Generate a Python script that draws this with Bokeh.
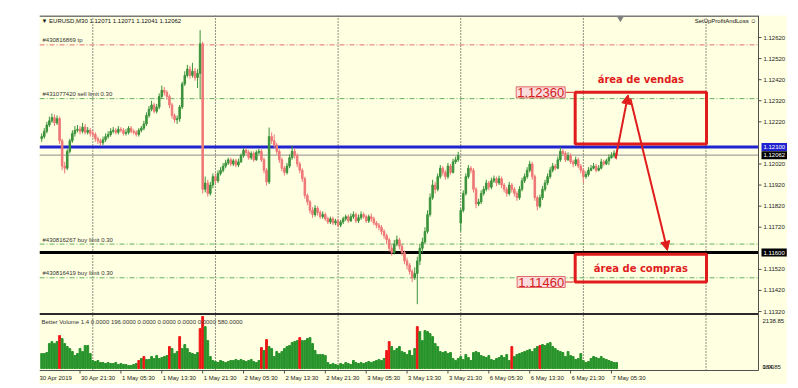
from bokeh.plotting import figure
from bokeh.models import (Range1d, Label, Arrow, NormalHead, BoxAnnotation,
                          ColumnDataSource, Spacer)
from bokeh.core.properties import value
from bokeh.layouts import column, row
from bokeh.embed import file_html
from bokeh.resources import INLINE

# ---------------- data (prices in points above PRICE_BASE) ----------------
PRICE_BASE = 1.10000
PT = 0.00001

OPEN_PTS = [
    2140, 2150, 2175, 2205, 2225, 2240, 2215, 2235, 2130, 2010,
    2000, 2080, 2130, 2165, 2180, 2185, 2175, 2195, 2170, 2180,
    2165, 2160, 2140, 2130, 2120, 2135, 2150, 2160, 2175, 2180,
    2170, 2185, 2180, 2165, 2170, 2190, 2175, 2170, 2160, 2180,
    2190, 2210, 2250, 2280, 2300, 2270, 2290, 2340, 2370, 2360,
    2340, 2300, 2250, 2230, 2235, 2290, 2400, 2440, 2470, 2440,
    2460, 2430, 2450, 2590, 1900, 1930, 1880, 1920, 1960, 1940,
    1975, 1990, 2010, 2025, 2040, 2020, 2035, 2015, 2030, 2060,
    2085, 2075, 2050, 2070, 2040, 2075, 2080, 2040, 1990, 1935,
    2150, 2130, 2110, 2080, 2040, 2000, 1980, 2010, 2050, 2080,
    2060, 2020, 1990, 1950, 1870, 1840, 1800, 1780, 1810, 1790,
    1770, 1780, 1760, 1745, 1760, 1740, 1750, 1730, 1745, 1760,
    1770, 1750, 1770, 1780, 1750, 1765, 1780, 1770, 1750, 1770,
    1760, 1740, 1730, 1720, 1700, 1680, 1660, 1620, 1600, 1640,
    1660, 1630, 1600, 1560, 1540, 1510, 1480, 1500, 1560, 1620,
    1650, 1700, 1780, 1860, 1920, 1900, 1960, 2000, 1980, 1960,
    2010, 1980, 2030, 2040, 1740, 1800, 1880, 1960, 2000, 1990,
    1900, 1830, 1840, 1880, 1900, 1930, 1910, 1940, 1950, 1930,
    1950, 1920, 1900, 1880, 1920, 1900, 1880, 1860, 1900, 1940,
    1960, 1990, 2020, 1960, 1860, 1820, 1860, 1900, 1930, 1960,
    1990, 2010, 2000, 2040, 2080, 2070, 2040, 2060, 2030, 2020,
    2040, 2010, 1990, 1960, 1970, 1990, 2000, 2010, 1990, 2000,
    2030, 2020, 2035, 2050, 2060, 2071,
]
HIGH_PTS = [
    2165, 2190, 2220, 2245, 2259, 2255, 2250, 2245, 2140, 2030,
    2090, 2140, 2180, 2200, 2205, 2200, 2215, 2210, 2195, 2190,
    2180, 2170, 2150, 2140, 2150, 2165, 2175, 2190, 2195, 2190,
    2200, 2195, 2190, 2185, 2200, 2200, 2185, 2180, 2190, 2200,
    2225, 2265, 2295, 2320, 2310, 2305, 2355, 2392, 2385, 2370,
    2350, 2310, 2260, 2250, 2300, 2410, 2460, 2490, 2485, 2500,
    2475, 2470, 2655, 2600, 1960, 1945, 1935, 1975, 1975, 1990,
    2005, 2025, 2040, 2050, 2050, 2045, 2045, 2045, 2070, 2095,
    2095, 2085, 2080, 2080, 2085, 2092, 2090, 2050, 2000, 2193,
    2170, 2160, 2120, 2090, 2050, 2010, 2025, 2065, 2105, 2095,
    2070, 2030, 2000, 1960, 1880, 1850, 1815, 1825, 1820, 1800,
    1795, 1790, 1770, 1770, 1770, 1760, 1760, 1755, 1770, 1780,
    1780, 1785, 1795, 1790, 1780, 1795, 1790, 1780, 1780, 1785,
    1770, 1750, 1740, 1730, 1710, 1690, 1670, 1635, 1660, 1680,
    1670, 1640, 1610, 1575, 1550, 1520, 1530, 1580, 1640, 1670,
    1720, 1800, 1880, 1945, 1935, 1975, 2015, 2010, 1990, 2025,
    2020, 2045, 2055, 2078, 1810, 1895, 1975, 2015, 2010, 2000,
    1910, 1855, 1895, 1915, 1945, 1940, 1955, 1965, 1960, 1965,
    1960, 1930, 1910, 1935, 1930, 1910, 1890, 1915, 1955, 1975,
    2005, 2035, 2030, 1970, 1870, 1875, 1915, 1945, 1975, 2005,
    2025, 2020, 2055, 2100, 2090, 2080, 2075, 2070, 2040, 2055,
    2050, 2020, 2000, 1985, 2005, 2015, 2025, 2020, 2015, 2045,
    2040, 2045, 2065, 2075, 2085, 2071,
]
LOW_PTS = [
    2125, 2140, 2165, 2195, 2215, 2200, 2205, 2115, 1990, 1975,
    1990, 2070, 2120, 2150, 2170, 2160, 2165, 2160, 2160, 2150,
    2145, 2125, 2115, 2105, 2110, 2125, 2140, 2150, 2165, 2160,
    2160, 2170, 2155, 2155, 2160, 2165, 2160, 2150, 2150, 2170,
    2180, 2200, 2240, 2270, 2260, 2260, 2280, 2330, 2345, 2325,
    2285, 2235, 2215, 2210, 2220, 2280, 2390, 2430, 2425, 2430,
    2415, 2380, 2330, 1880, 1885, 1865, 1870, 1905, 1925, 1930,
    1965, 1980, 2000, 2015, 2010, 2010, 2005, 2005, 2025, 2050,
    2065, 2040, 2040, 2030, 2035, 2065, 2030, 1975, 1918, 1925,
    2115, 2095, 2065, 2025, 1985, 1965, 1970, 2000, 2040, 2045,
    2005, 1975, 1935, 1855, 1825, 1785, 1765, 1770, 1775, 1760,
    1760, 1750, 1735, 1735, 1730, 1730, 1720, 1720, 1735, 1750,
    1740, 1745, 1760, 1740, 1740, 1755, 1760, 1740, 1740, 1745,
    1730, 1715, 1705, 1685, 1665, 1640, 1605, 1585, 1590, 1630,
    1615, 1585, 1545, 1520, 1495, 1460, 1470, 1355, 1540, 1600,
    1640, 1690, 1770, 1850, 1880, 1890, 1950, 1965, 1945, 1950,
    1970, 1975, 2020, 2030, 1700, 1790, 1870, 1950, 1975, 1885,
    1810, 1820, 1830, 1870, 1890, 1895, 1900, 1930, 1915, 1920,
    1905, 1885, 1865, 1870, 1885, 1865, 1845, 1850, 1890, 1930,
    1950, 1980, 1945, 1845, 1800, 1810, 1850, 1890, 1920, 1950,
    1980, 1990, 1995, 2030, 2060, 2030, 2035, 2020, 2005, 2010,
    2000, 1975, 1930, 1950, 1960, 1985, 1995, 1980, 1985, 1995,
    2010, 2015, 2015, 2045, 2050, 2041,
]
CLOSE_PTS = [
    2150, 2175, 2205, 2225, 2240, 2215, 2235, 2130, 2010, 2000,
    2080, 2130, 2165, 2180, 2185, 2175, 2195, 2170, 2180, 2165,
    2160, 2140, 2130, 2120, 2135, 2150, 2160, 2175, 2180, 2170,
    2185, 2180, 2165, 2170, 2190, 2175, 2170, 2160, 2180, 2190,
    2210, 2250, 2280, 2300, 2270, 2290, 2340, 2370, 2360, 2340,
    2300, 2250, 2230, 2235, 2290, 2400, 2440, 2470, 2440, 2460,
    2430, 2450, 2590, 1900, 1930, 1880, 1920, 1960, 1940, 1975,
    1990, 2010, 2025, 2040, 2020, 2035, 2015, 2030, 2060, 2085,
    2075, 2050, 2070, 2040, 2075, 2080, 2040, 1990, 1935, 2150,
    2130, 2110, 2080, 2040, 2000, 1980, 2010, 2050, 2080, 2060,
    2020, 1990, 1950, 1870, 1840, 1800, 1780, 1810, 1790, 1770,
    1780, 1760, 1745, 1760, 1740, 1750, 1730, 1745, 1760, 1770,
    1750, 1770, 1780, 1750, 1765, 1780, 1770, 1750, 1770, 1760,
    1740, 1730, 1720, 1700, 1680, 1660, 1620, 1600, 1640, 1660,
    1630, 1600, 1560, 1540, 1510, 1480, 1500, 1560, 1620, 1650,
    1700, 1780, 1860, 1920, 1900, 1960, 2000, 1980, 1960, 2010,
    1980, 2030, 2040, 2060, 1800, 1880, 1960, 2000, 1990, 1900,
    1830, 1840, 1880, 1900, 1930, 1910, 1940, 1950, 1930, 1950,
    1920, 1900, 1880, 1920, 1900, 1880, 1860, 1900, 1940, 1960,
    1990, 2020, 1960, 1860, 1820, 1860, 1900, 1930, 1960, 1990,
    2010, 2000, 2040, 2080, 2070, 2040, 2060, 2030, 2020, 2040,
    2010, 1990, 1960, 1970, 1990, 2000, 2010, 1990, 2000, 2030,
    2020, 2035, 2050, 2060, 2071, 2062,
]
VOLUME = [
    615, 615, 656, 1025, 1107, 1025, 1107, 1353, 1230, 1025,
    902, 820, 697, 533, 615, 820, 697, 943, 943, 615,
    328, 287, 328, 246, 246, 205, 246, 205, 205, 246,
    164, 205, 164, 164, 123, 123, 164, 205, 328, 410,
    492, 369, 369, 492, 410, 533, 410, 451, 492, 533,
    902, 820, 615, 697, 1312, 820, 984, 820, 656, 615,
    574, 656, 1640, 2138, 1722, 1148, 492, 328, 287, 246,
    328, 287, 246, 287, 328, 328, 369, 328, 369, 328,
    287, 328, 369, 287, 246, 328, 861, 738, 1189, 902,
    820, 492, 697, 615, 697, 820, 902, 943, 1066, 1107,
    1148, 1271, 1148, 1148, 1230, 1271, 1025, 738, 574, 574,
    574, 533, 246, 164, 205, 164, 123, 205, 164, 246,
    205, 164, 328, 246, 205, 246, 205, 246, 287, 246,
    287, 328, 369, 328, 410, 738, 1107, 902, 738, 820,
    902, 697, 656, 574, 738, 533, 820, 1722, 1517, 1148,
    1558, 1517, 1435, 1312, 1025, 902, 697, 656, 697, 615,
    656, 410, 328, 410, 492, 369, 574, 451, 328, 656,
    697, 656, 533, 492, 451, 533, 369, 328, 410, 451,
    533, 451, 574, 328, 902, 492, 574, 615, 656, 697,
    738, 779, 697, 820, 902, 943, 984, 943, 1025, 1066,
    902, 820, 738, 697, 656, 492, 697, 533, 492, 369,
    410, 615, 328, 246, 287, 410, 492, 451, 410, 492,
    410, 369, 328, 287, 246, 246,
]
VOL_CLIMAX = [7, 38, 40, 50, 54, 62, 63, 86, 88, 101, 135, 136, 147, 184, 195]
VOL_MAX_LABEL = "2138.85"
VOL_MIN_LABELS = ["0.00", "184.85"]

FIRST_LABEL = "30 Apr 2019"
TIME_TICKS = [15, 31, 47, 63, 79, 95, 111, 127, 143, 159, 175, 191, 207, 223]
TIME_LABELS = ["30 Apr 21:30", "1 May 05:30", "1 May 13:30", "1 May 21:30",
               "2 May 05:30", "2 May 13:30", "2 May 21:30", "3 May 05:30",
               "3 May 13:30", "3 May 21:30", "6 May 05:30", "6 May 13:30",
               "6 May 21:30", "7 May 05:30"]
DAY_STARTS = [20, 68, 116, 164, 212, 260]
PRICE_TICKS = [1.11320, 1.11420, 1.11520, 1.11720, 1.11820, 1.11920,
               1.12020, 1.12220, 1.12320, 1.12420, 1.12520, 1.12620]

TITLE = "\u25bc EURUSD,M30  1.12071 1.12071 1.12041 1.12062"
EXPERT = "SetUpProfitAndLoss \u263a"
VOL_TITLE = "Better Volume 1.4 0.0000 196.0000 0.0000 0.0000 0.0000 0.0000 580.0000"

ORDER_NAMES = ["#430816869 tp", "#431077420 sell limit 0.30",
               "#430816267 buy limit 0.30", "#430816419 buy limit 0.30"]
ORDER_PRICES = [1.12585, 1.12330, 1.11640, 1.11480]
ORDER_KIND = ["tp", "limit", "limit", "limit"]

LEVEL_BLUE = 1.12100
LEVEL_BLACK = 1.11600
BID = 1.12062
SELL_ZONE = (1.12115, 1.12360)
BUY_ZONE = (1.11460, 1.11592)
ZONE_X = (208.8, 260.2)
SELL_TEXT = "área de vendas"
BUY_TEXT = "área de compras"
ARROW_UP = (224.6, 1.12046, 229.5, 1.12348)
ARROW_DOWN = (230.4, 1.12331, 244.9, 1.11610)

# ---------------- layout constants (frame = whole figure) ----------------
FIG_W, FIG_H = 748, 369          # placed at page (39, 15)
PLOT_W, PLOT_H = 719, 355        # chart area inside, axes drawn by hand
BAR_PX = 2.555
X_LEFT = -0.861
X_RIGHT = X_LEFT + FIG_W / BAR_PX
PRICE_PER_PX = 0.00004744
PRICE_TOP = 1.127244
PRICE_BOTTOM = PRICE_TOP - FIG_H * PRICE_PER_PX
VOL_PER_PX = 41.13
VOL_BASE_PX = 353
VOL_TOP = VOL_BASE_PX * VOL_PER_PX
VOL_BOTTOM = -(FIG_H - VOL_BASE_PX) * VOL_PER_PX


def fx(px):
    return X_LEFT + px / BAR_PX


def fy(py):
    return PRICE_TOP - py * PRICE_PER_PX


def fv(py):
    return (VOL_BASE_PX - py) * VOL_PER_PX


def to_price(pts):
    return [round(PRICE_BASE + v * PT, 5) for v in pts]


N = len(CLOSE_PTS)
IDX = list(range(N))
O, H, L, C = (to_price(a) for a in (OPEN_PTS, HIGH_PTS, LOW_PTS, CLOSE_PTS))
X_AXIS = fx(PLOT_W)
Y_AXIS = fy(PLOT_H)

UP, DOWN = "#3C933C", "#EE7878"
src = ColumnDataSource(dict(
    x=IDX, h=H, l=L,
    top=[max(a, b) for a, b in zip(O, C)],
    bot=[min(a, b) for a, b in zip(O, C)],
    color=[UP if c >= o else DOWN for o, c in zip(O, C)],
))
vsrc = ColumnDataSource(dict(
    x=IDX, v=VOLUME,
    color=["#F01616" if i in VOL_CLIMAX else "#27932A" for i in IDX],
))

BG = "#FFFFE1"
p = figure(width=FIG_W, height=FIG_H, x_range=Range1d(X_LEFT, X_RIGHT),
           y_range=Range1d(PRICE_BOTTOM, PRICE_TOP),
           x_axis_location=None, y_axis_location=None,
           toolbar_location=None, output_backend="svg", title=None,
           min_border=0, min_border_left=0, min_border_right=0,
           min_border_top=0, min_border_bottom=0,
           background_fill_color=BG, border_fill_color=BG, outline_line_color=None)
p.extra_y_ranges = {"vol": Range1d(VOL_BOTTOM, VOL_TOP)}
p.grid.visible = False

FONT = "Liberation Sans"
AX = "#505050"


def hline(y, color, width=1, dash="solid"):
    p.segment(x0=[X_LEFT], x1=[X_AXIS], y0=[y], y1=[y], line_color=color,
              line_width=width, line_dash=dash)


# day separators
p.segment(x0=DAY_STARTS, x1=DAY_STARTS, y0=[fy(0)] * len(DAY_STARTS),
          y1=[Y_AXIS] * len(DAY_STARTS), line_color="#222222", line_width=1, line_dash="1 2")

# order lines + labels
for name, price, kind in zip(ORDER_NAMES, ORDER_PRICES, ORDER_KIND):
    hline(price, "#E07070" if kind == "tp" else "#62B262", 1, "5 2 1 2")
p.text(x=[fx(3)] * len(ORDER_NAMES), y=[pr + 1.5 * PRICE_PER_PX for pr in ORDER_PRICES],
       text=ORDER_NAMES, text_font=value(FONT), text_font_size="6px",
       text_color="#333333", text_baseline="bottom", text_align="left")

# key levels
hline(LEVEL_BLUE, "#2024D0", 3)
hline(BID, "#8C8C8C", 1)
hline(LEVEL_BLACK, "#000000", 3)

# candles
p.segment(x0="x", y0="l", x1="x", y1="h", color="color", line_width=1, source=src)
p.vbar(x="x", top="top", bottom="bot", width=0.6, color="color", source=src)

# volume
p.vbar(x="x", top="v", bottom=0, width=0.72, color="color", source=vsrc, y_range_name="vol")

# frame lines: top, panel separator, right axis, bottom axis
hline(fy(0.5), "#7A7A7A", 2)
hline(fy(298.5), "#2A2A2A", 2)
p.segment(x0=[X_AXIS], x1=[X_AXIS], y0=[fy(0)], y1=[Y_AXIS], line_color=AX, line_width=1)
hline(Y_AXIS, AX, 1)

# price axis ticks & labels
p.segment(x0=[X_AXIS] * len(PRICE_TICKS), x1=[fx(PLOT_W + 3)] * len(PRICE_TICKS),
          y0=PRICE_TICKS, y1=PRICE_TICKS, line_color=AX, line_width=1)
p.text(x=[fx(PLOT_W + 5)] * len(PRICE_TICKS), y=PRICE_TICKS,
       text=[f"{t:.5f}" for t in PRICE_TICKS], text_font=value(FONT),
       text_font_size="6px", text_color="#222222", text_baseline="middle", text_align="left")

# time axis ticks & labels
p.segment(x0=TIME_TICKS, x1=TIME_TICKS, y0=[Y_AXIS] * len(TIME_TICKS),
          y1=[fy(PLOT_H + 3)] * len(TIME_TICKS), line_color=AX, line_width=1)
p.text(x=[fx(0)] + [t + 1.0 / BAR_PX for t in TIME_TICKS],
       y=[fy(PLOT_H + 7)] * (len(TIME_TICKS) + 1),
       text=[FIRST_LABEL] + TIME_LABELS, text_font=value(FONT), text_font_size="6px",
       text_color="#222222", text_baseline="middle", text_align="left")

# shift marker
p.scatter(x=[N + 0.5], y=[fy(2.5)], marker="inverted_triangle", size=6, color="#808080")

# header texts
p.add_layout(Label(x=fx(2), y=fy(5), text=TITLE, text_font=FONT, text_font_size="6px",
                   text_color="#111111", text_baseline="middle", text_align="left"))
p.add_layout(Label(x=fx(PLOT_W - 2), y=fy(5), text=EXPERT, text_font=FONT, text_font_size="6px",
                   text_color="#111111", text_baseline="middle", text_align="right"))
p.add_layout(Label(x=fx(2), y=fy(306), text=VOL_TITLE, text_font=FONT, text_font_size="6px",
                   text_color="#333333", text_baseline="middle", text_align="left"))

# right side price boxes
for price, bg in ((LEVEL_BLUE, "#2024D0"), (BID, "#000000"), (LEVEL_BLACK, "#000000")):
    p.add_layout(Label(x=fx(PLOT_W + 3), y=price, text=f"{price:.5f}", text_font=FONT,
                       text_font_size="6px", text_color="white", text_baseline="middle",
                       text_align="left", background_fill_color=bg, padding=2))

# volume scale labels (top of sub-window and its zero line)
p.text(x=[fx(PLOT_W + 4)] * 3, y=[fv(305), fv(351.5), fv(351.5)],
       text=[VOL_MAX_LABEL] + VOL_MIN_LABELS, y_range_name="vol",
       text_font=value(FONT), text_font_size="6px", text_color="#222222",
       text_baseline="middle", text_align="left")

# zones
RED = "#E01C1C"
for lo, hi in (SELL_ZONE, BUY_ZONE):
    p.add_layout(BoxAnnotation(left=ZONE_X[0], right=ZONE_X[1], bottom=lo, top=hi,
                               fill_alpha=0, line_alpha=1, line_color=RED, line_width=3))

zx_mid = (ZONE_X[0] + ZONE_X[1]) / 2
p.add_layout(Label(x=zx_mid, y=SELL_ZONE[1] + 13 * PRICE_PER_PX, text=SELL_TEXT,
                   text_font="DejaVu Sans", text_font_style="bold", text_font_size="10px",
                   text_color=RED, text_align="center", text_baseline="middle"))
p.add_layout(Label(x=zx_mid, y=(BUY_ZONE[0] + BUY_ZONE[1]) / 2, text=BUY_TEXT,
                   text_font="DejaVu Sans", text_font_style="bold", text_font_size="10px",
                   text_color=RED, text_align="center", text_baseline="middle"))

# price tags at the zone edges
for price in (SELL_ZONE[1], BUY_ZONE[0]):
    x_end = ZONE_X[0] - 10 / BAR_PX
    p.add_layout(Label(x=x_end, y=price, text=f"{price:.5f}", text_font=FONT,
                       text_font_size="13px", text_color="#D42020", text_align="right",
                       text_baseline="middle", background_fill_color="#FBDCDC",
                       border_line_color="#E06A6A", padding=1))
    p.segment(x0=[x_end], x1=[ZONE_X[0] - 1.5 / BAR_PX], y0=[price], y1=[price],
              line_color="#D42020", line_width=1)

# arrows
for a in (ARROW_UP, ARROW_DOWN):
    p.add_layout(Arrow(x_start=a[0], y_start=a[1], x_end=a[2], y_end=a[3],
                       line_color=RED, line_width=2,
                       end=NormalHead(size=9, fill_color=RED, line_color=RED, line_width=1)))

layout = column(Spacer(height=15), row(Spacer(width=39), p))
open("out.html", "w").write(file_html(layout, INLINE))
